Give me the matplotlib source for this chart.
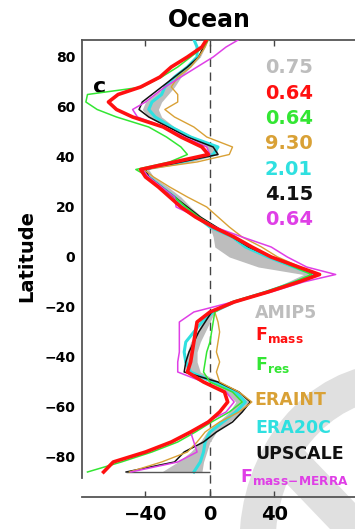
import numpy as np
import matplotlib
matplotlib.use('Agg')
import matplotlib.pyplot as plt
from matplotlib.patches import Arc

# Zonal-mean profiles over ocean, one value per latitude row (south to north)
lats = [-86, -82, -78, -74, -70, -66, -62, -58, -54, -50,
        -46, -42, -38, -34, -30, -26, -22, -18, -14, -10,
        -7, -4, 0, 4, 8, 12, 16, 20, 24, 28,
        32, 35, 38, 41, 44, 48, 52, 56, 59, 62,
        65, 68, 72, 76, 80, 84, 87]

amip5_lo = [-30, -20, -12, -6, -2, 5, 12, 16, 10, 0,
            -14, -16, -14, -12, -8, -5, 0, 13, 34, 48,
            58, 30, 12, 3, 2, 0, -8, -16, -22, -30,
            -38, -41, -18, 0, -2, -14, -26, -38, -42, -40,
            -34, -28, -22, -14, -8, -4, -3]
amip5_hi = [-5, -4, -2, 0, 4, 12, 20, 24, 17, 6,
            -6, -8, -8, -6, -3, 0, 3, 16, 37, 54,
            66, 56, 40, 27, 15, 4, -5, -12, -18, -26,
            -35, -38, -12, 5, 4, -10, -22, -30, -32, -30,
            -26, -22, -18, -12, -6, -3, -1]

f_mass = [-66, -60, -40, -24, -12, -1, 6, 11, 9, -4,
          -14, -12, -11, -10, -9, -8, 0, 15, 36, 55,
          68, 55, 38, 26, 15, 2, -9, -18, -25, -32,
          -40, -43, -22, -1, -5, -18, -29, -48, -58, -63,
          -57, -43, -31, -24, -14, -5, -2]
f_res = [-76, -55, -36, -20, -9, 1, 12, 20, 14, 0,
         -4, -3, -2, 0, 1, 2, 3, 13, 34, 52,
         63, 52, 38, 25, 14, 3, -7, -15, -22, -30,
         -38, -46, -25, -14, -18, -27, -38, -58, -70, -77,
         -76, -42, -30, -20, -12, -4, -1]
eraint = [-50, -30, -14, -8, -3, 6, 18, 26, 18, 6,
          4, 6, 4, 5, 6, 5, 3, 14, 35, 54,
          66, 56, 42, 32, 20, 12, 5, -2, -14, -25,
          -35, -41, -8, 12, 14, -2, -10, -22, -28, -20,
          -20, -24, -20, -12, -7, -3, -1]
era20c = [-10, -6, -4, -3, 0, 8, 16, 22, 16, 2,
          -12, -15, -16, -15, -10, -5, 2, 15, 35, 53,
          65, 52, 36, 22, 14, 0, -8, -16, -22, -30,
          -38, -42, -18, 2, 5, -12, -24, -34, -38, -36,
          -30, -28, -22, -14, -8, -8, -10]
upscale = [-52, -22, -16, -4, 4, 14, 20, 25, 18, 5,
           -16, -15, -13, -10, -7, -3, 1, 15, 35, 54,
           66, 54, 38, 24, 14, 4, -6, -14, -22, -30,
           -38, -40, -18, 5, 2, -14, -26, -38, -44, -42,
           -36, -30, -22, -14, -7, -4, -3]
f_mass_merra = [-49, -20, -8, -10, -12, -2, 10, 15, 10, -4,
                -20, -20, -19, -19, -19, -19, -10, 14, 38, 58,
                78, 60, 48, 38, 20, 3, -8, -21, -22, -30,
                -38, -42, -22, 0, -2, -16, -28, -45, -48, -40,
                -34, -28, -18, -8, 2, 10, 18]

scores = ['0.75', '0.64', '0.64', '9.30', '2.01', '4.15', '0.64']
names = ['AMIP5', r'$\mathbf{F_{mass}}$', r'$\mathbf{F_{res}}$', 'ERAINT',
         'ERA20C', 'UPSCALE', r'$\mathbf{F_{mass\!-\!MERRA}}$']

c_gray = '#bdbdbd'
c_red = '#ff1010'
c_green = '#33e633'
c_orange = '#d9a136'
c_cyan = '#2fe0e0'
c_black = '#111111'
c_mag = '#df3fe6'
colors = [c_gray, c_red, c_green, c_orange, c_cyan, c_black, c_mag]

fig = plt.figure(figsize=(3.55, 5.29), dpi=100)

# faint watermark strokes behind everything
fig.add_artist(Arc((1.115, -0.03), 0.78, 0.62, theta1=92, theta2=180,
                   transform=fig.transFigure, color='#e0e0e0', lw=26, zorder=0))
fig.add_artist(plt.Line2D([0.80, 1.0], [0.14, 0.0], transform=fig.transFigure,
                          color='#e0e0e0', lw=26, zorder=0, solid_capstyle='butt'))

ax = fig.add_axes([0.231, 0.0605, 0.769, 0.8639])
ax.patch.set_alpha(0)

ax.fill_betweenx(lats, amip5_lo, amip5_hi, color=c_gray, lw=0, zorder=2)
ax.axvline(0, color='#444444', lw=1.0, dashes=(6, 4), zorder=1)

ax.plot(era20c, lats, color=c_cyan, lw=2.2, zorder=3)
ax.plot(upscale, lats, color=c_black, lw=1.1, zorder=4)
ax.hlines(lats[0], upscale[0], 0, color='#555555', lw=1.0, zorder=4)
ax.plot(eraint, lats, color=c_orange, lw=1.0, zorder=4)
ax.plot(f_res, lats, color=c_green, lw=1.1, zorder=4)
ax.plot(f_mass_merra, lats, color=c_mag, lw=1.1, zorder=5)
ax.plot(f_mass, lats, color=c_red, lw=2.6, zorder=6)

ax.set_xlim(-79.4, 90)
ax.set_ylim(-96, 86.8)
ax.set_xticks([-40, 0, 40])
ax.set_yticks([-80, -60, -40, -20, 0, 20, 40, 60, 80])
ax.tick_params(axis='x', top=True, direction='in', length=4, width=1,
               color='#444444', labelsize=14, pad=6)
ax.tick_params(axis='y', length=0, labelsize=10, pad=5)
for lab in ax.get_xticklabels() + ax.get_yticklabels():
    lab.set_fontweight('bold')

ax.spines['right'].set_visible(False)
ax.spines['left'].set_bounds(-88.4, 86.8)
for s in ['left', 'top', 'bottom']:
    ax.spines[s].set_color('#555555')
    ax.spines[s].set_linewidth(1.3)

ax.text(0.04, 0.885, 'c', transform=ax.transAxes, fontsize=16,
        fontweight='bold', va='baseline')

# scores, one per dataset
for i, (s, c) in enumerate(zip(scores, colors)):
    ax.text(0.846, 0.939 - i * 0.0554, s, transform=ax.transAxes, color=c,
            fontsize=14, fontweight='bold', ha='right', va='center')

# dataset names down the right-hand side
name_base = [318, 340, 370, 405, 433, 459, 482]
name_left = [255, 255, 255, 254, 255, 255, 240]
for n, c, yb, xl in zip(names, colors, name_base, name_left):
    ax.text((xl - 82) / 273, (497 - yb) / 457, n, transform=ax.transAxes,
            color=c, fontsize=12.5, fontweight='bold', ha='left', va='baseline')

fig.text(209 / 355, 1 - 27 / 529, 'Ocean', fontsize=17, fontweight='bold',
         ha='center', va='baseline')
fig.text(27 / 355, 1 - 256 / 529, 'Latitude', fontsize=14, fontweight='bold',
         rotation=90, ha='center', va='center')

fig.savefig('out.png', dpi=100)
